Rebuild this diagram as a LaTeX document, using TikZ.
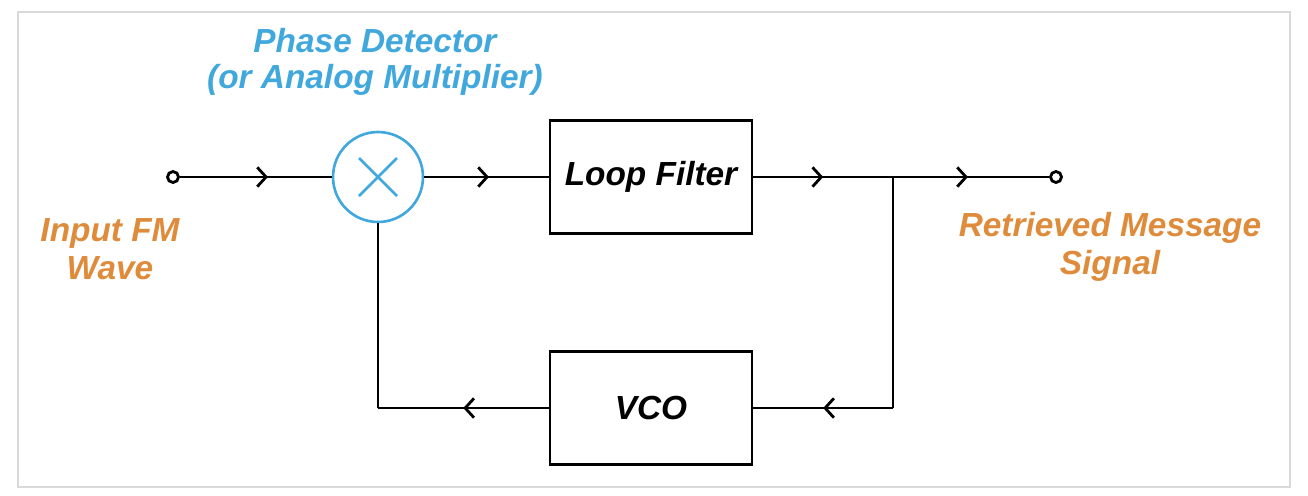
\documentclass[tikz,border=0pt]{standalone}
\usepackage{fontspec}
\setmainfont{Liberation Sans}
\usetikzlibrary{arrows.meta,decorations.markings}
\definecolor{pdblue}{RGB}{64,168,220}
\definecolor{sigorange}{RGB}{222,140,60}
\tikzset{
	wire/.style={line width=1.6pt, black},
	midarrow/.style={wire, postaction={decorate}, decoration={markings,
		mark=at position #1 with {\arrow{Straight Barb[length=5pt,width=11pt,line width=1.6pt]}}}},
	block/.style={draw, line width=1.6pt, minimum width=4.04cm, minimum height=2.26cm,
		font=\fontsize{19}{22}\selectfont\bfseries\itshape},
	term/.style={circle, draw, line width=1.6pt, fill=white, inner sep=0pt, minimum size=0.22cm},
	bluelbl/.style={text=pdblue, font=\fontsize{19}{20.5}\selectfont\bfseries\itshape, align=center},
	orangelbl/.style={text=sigorange, font=\fontsize{19}{21.5}\selectfont\bfseries\itshape, align=center},
}
\begin{document}
\begin{tikzpicture}[x=0.02cm,y=-0.02cm]

\def\my{177}
\def\fy{408}
\def\jx{893}

% frame
\useasboundingbox (0,0) rectangle (1308,495);
\draw [black!15, line width=0.6pt] (18,12) rectangle (1290,487);

% blocks
\node [term] (in) at (173,\my) {};
\node [term] (out) at (1056,\my) {};
\node [circle, draw=pdblue, line width=1.5pt, minimum size=1.8cm, inner sep=0pt] (mix) at (378,\my) {};
\draw [pdblue, line width=1.5pt] (mix.center) +(-19,-19) -- +(19,19) +(-19,19) -- +(19,-19);
\node [block] (lf) at (651,\my) {Loop Filter};
\node [block] (vco) at (651,\fy) {VCO};
\coordinate (j) at (\jx,\my);
\coordinate (jd) at (\jx,\fy);
\coordinate (vl) at (378,\fy);

% signal path
\draw [midarrow=0.58] (in) -- (mix);
\draw [midarrow=0.52] (mix) -- (lf);
\draw [midarrow=0.5] (lf) -- (j);
\draw [midarrow=0.48] (j) -- (out);
% feedback
\draw [wire] (j) -- (jd);
\draw [midarrow=0.5] (jd) -- (vco);
\draw [midarrow=0.5] (vco) -- (vl);
\draw [wire] (vl) -- (mix);

% labels
\node [bluelbl] (pd) at (375,62) {Phase Detector\\(or Analog Multiplier)};
\node [orangelbl] (inl) at (110,249) {Input FM\\Wave};
\node [orangelbl] (outl) at (1110,247) {Retrieved Message\\Signal};

\end{tikzpicture}
\end{document}
